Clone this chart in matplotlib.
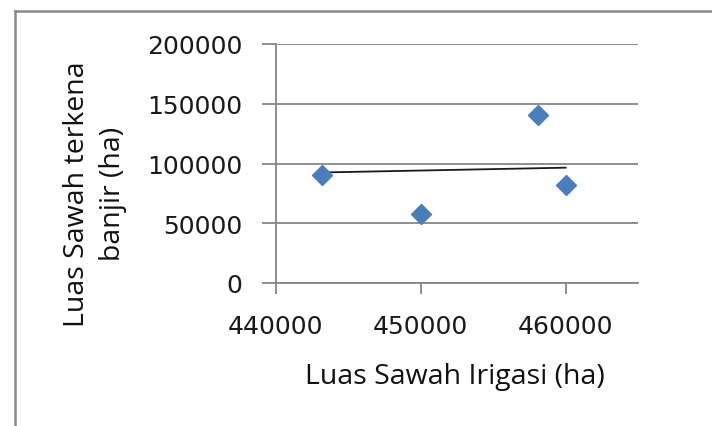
import matplotlib
matplotlib.use('Agg')
import matplotlib.pyplot as plt
from matplotlib.lines import Line2D

# data
luas_irigasi = [443200, 450000, 458100, 460000]
luas_banjir = [90000, 57500, 141000, 82000]
trend_x = [443200, 460000]
trend_y = [92500, 96500]

x_ticks = [440000, 450000, 460000]
y_ticks = [0, 50000, 100000, 150000, 200000]

W, H = 712, 427
grey = '#868686'

fig = plt.figure(figsize=(W / 100, H / 100), dpi=100)
ax = fig.add_axes([276 / W, 1 - 284 / H, (638 - 276) / W, (284 - 45) / H])

ax.set_xlim(440000, 465000)
ax.set_ylim(0, 200000)
ax.set_xticks(x_ticks)
ax.set_yticks(y_ticks)
ax.set_xticklabels([str(v) for v in x_ticks])
ax.set_yticklabels([str(v) for v in y_ticks])

ax.grid(axis='y', color=grey, lw=1.3)
ax.set_axisbelow(True)
for s in ['top', 'right']:
    ax.spines[s].set_visible(False)
for s in ['left', 'bottom']:
    ax.spines[s].set_color(grey)
    ax.spines[s].set_linewidth(1.3)

ax.tick_params(axis='y', length=10, width=1.3, color=grey, pad=14,
               labelsize=18, labelcolor='#1a1a1a')
ax.tick_params(axis='x', length=8, width=1.3, color=grey, pad=14,
               labelsize=18, labelcolor='#1a1a1a')

ax.plot(trend_x, trend_y, color='#1a1a1a', lw=1.3, zorder=3)
ax.plot(luas_irigasi, luas_banjir, linestyle='none', marker='D', ms=9.8,
        color='#4a7ebb', zorder=4)

fig.text(455 / W, 1 - 377 / H, 'Luas Sawah Irigasi (ha)', ha='center',
         va='center', fontsize=20.5, family='Open Sans', color='#111111')
fig.text(95 / W, 1 - 194 / H, 'Luas Sawah terkena\nbanjir (ha)', ha='center',
         va='center', rotation=90, fontsize=20.5, family='Open Sans',
         color='#111111', linespacing=1.4, multialignment='center')

# outer chart frame (right/bottom edges fall outside the picture)
fig.add_artist(Line2D([15 / W, 15 / W], [0, 1 - 12 / H], color='#8a8a8a',
                      lw=1.8, transform=fig.transFigure))
fig.add_artist(Line2D([15 / W, 1], [1 - 12 / H, 1 - 12 / H], color='#8a8a8a',
                      lw=1.8, transform=fig.transFigure))

fig.savefig('out.png', dpi=100)
